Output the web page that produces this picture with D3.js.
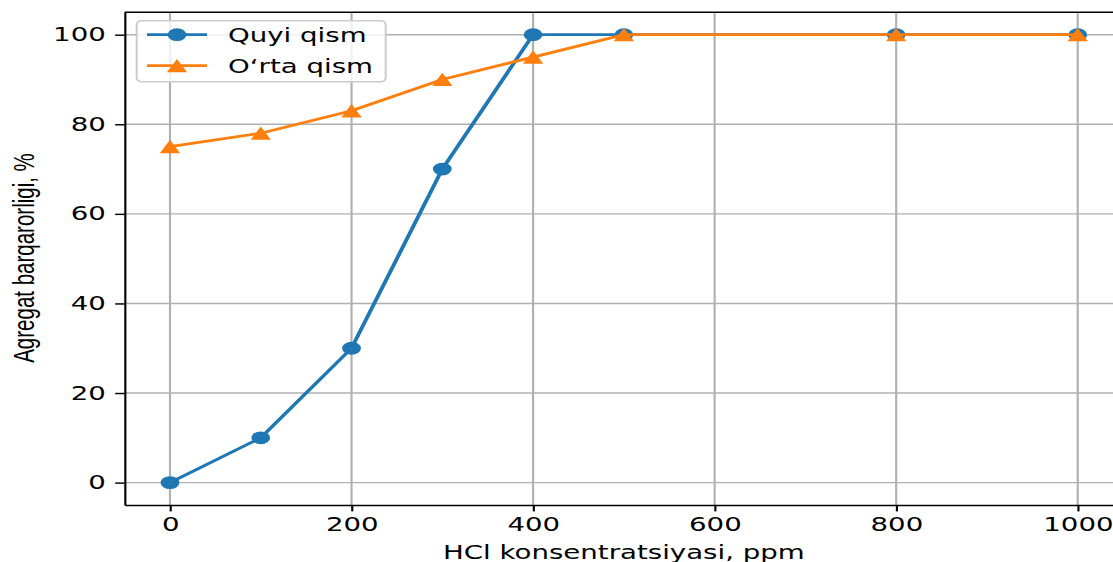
<!DOCTYPE html>
<html>
<head>
<meta charset="utf-8">
<script src="https://cdn.jsdelivr.net/npm/d3@7"></script>
<style>
  html, body { margin: 0; padding: 0; background: #fff; }
  svg { display: block; }
</style>
</head>
<body>
<svg id="chart"></svg>
<script>
// data
const concentrations = [0, 100, 200, 300, 400, 500, 800, 1000];
const quyiQism = [0, 10, 30, 70, 100, 100, 100, 100];
const ortaQism = [75, 78, 83, 90, 95, 100, 100, 100];
const seriesNames = ['Quyi qism', 'O\u2018rta qism'];
const xTicks = [0, 200, 400, 600, 800, 1000];
const yTicks = [0, 20, 40, 60, 80, 100];
const xLabel = 'HCl konsentratsiyasi, ppm';
const yLabel = 'Agregat barqarorligi, %';

const blue = '#1f77b4';
const orange = '#ff7f0e';

// the original figure is stretched sideways, so draw in a narrower box and let the svg stretch it
const stretch = 1.47;
const canvasWidth = 1113;
const canvasHeight = 562;
const innerWidth = canvasWidth / stretch;

const svg = d3.select('#chart')
  .attr('width', canvasWidth)
  .attr('height', canvasHeight)
  .attr('viewBox', `0 0 ${innerWidth} ${canvasHeight}`)
  .attr('preserveAspectRatio', 'none');

const plotLeft = 124.6 / stretch, plotRight = 1123.1 / stretch;
const plotTop = 12.3, plotBottom = 505;

const xScale = d3.scaleLinear().domain([-50, 1050]).range([plotLeft, plotRight]);
const yScale = d3.scaleLinear().domain([-5, 105]).range([plotBottom, plotTop]);

// grid
const grid = svg.append('g');
grid.selectAll('.vgrid').data(xTicks).join('line')
  .attr('x1', d => xScale(d)).attr('x2', d => xScale(d))
  .attr('y1', plotTop).attr('y2', plotBottom)
  .attr('stroke', '#b0b0b0').attr('stroke-width', 1.45);
grid.selectAll('.hgrid').data(yTicks).join('line')
  .attr('x1', plotLeft).attr('x2', plotRight)
  .attr('y1', d => yScale(d)).attr('y2', d => yScale(d))
  .attr('stroke', '#b0b0b0').attr('stroke-width', 1.45);

// series
const line = d3.line().x(d => xScale(d[0])).y(d => yScale(d[1]));
const triangle = 'M0,-6.8L6.9,6.6L-6.9,6.6Z';

const quyiPts = concentrations.map((c, i) => [c, quyiQism[i]]);
const ortaPts = concentrations.map((c, i) => [c, ortaQism[i]]);

svg.append('path').datum(quyiPts)
  .attr('d', line).attr('fill', 'none')
  .attr('stroke', blue).attr('stroke-width', 2.75);
svg.append('g').selectAll('circle').data(quyiPts).join('circle')
  .attr('cx', d => xScale(d[0])).attr('cy', d => yScale(d[1]))
  .attr('r', 6.4).attr('fill', blue);

svg.append('path').datum(ortaPts)
  .attr('d', line).attr('fill', 'none')
  .attr('stroke', orange).attr('stroke-width', 2.75);
svg.append('g').selectAll('path').data(ortaPts).join('path')
  .attr('transform', d => `translate(${xScale(d[0])},${yScale(d[1])})`)
  .attr('d', triangle).attr('fill', orange);

// axes
const font = 'DejaVu Sans, sans-serif';
const fontSize = '18.8px';
const xAxis = d3.axisBottom(xScale).tickValues(xTicks).tickFormat(d3.format('d'))
  .tickSize(6.4).tickPadding(6.4).tickSizeOuter(0);
const yAxis = d3.axisLeft(yScale).tickValues(yTicks).tickFormat(d3.format('d'))
  .tickSize(6.4).tickPadding(6.4).tickSizeOuter(0);

svg.append('g').attr('transform', `translate(0,${plotBottom})`).call(xAxis);
svg.append('g').attr('transform', `translate(${plotLeft},0)`).call(yAxis);
svg.selectAll('.domain, .tick line').attr('stroke', '#000').attr('stroke-width', 1.45);
svg.selectAll('.tick text').attr('fill', '#000')
  .style('font-family', font).style('font-size', fontSize);

// top and right spines
svg.append('line').attr('x1', plotLeft).attr('x2', plotRight).attr('y1', plotTop).attr('y2', plotTop)
  .attr('stroke', '#000').attr('stroke-width', 1.45);
svg.append('line').attr('x1', plotRight).attr('x2', plotRight).attr('y1', plotTop).attr('y2', plotBottom)
  .attr('stroke', '#000').attr('stroke-width', 1.45);

// labels
svg.append('text')
  .attr('x', (plotLeft + plotRight) / 2).attr('y', 559)
  .attr('text-anchor', 'middle')
  .style('font-family', font).style('font-size', fontSize)
  .text(xLabel);
svg.append('text')
  .attr('transform', `translate(${23 / stretch},258) rotate(-90)`)
  .attr('text-anchor', 'middle').attr('dominant-baseline', 'central')
  .style('font-family', 'Liberation Sans, Arial, sans-serif').style('font-size', '20.5px')
  .text(yLabel);

// legend
const legend = svg.append('g');
legend.append('rect')
  .attr('x', 136.7 / stretch).attr('y', 20.7)
  .attr('width', (385.7 - 136.7) / stretch).attr('height', 61)
  .attr('rx', 3).attr('ry', 4)
  .attr('fill', 'rgba(255,255,255,0.8)').attr('stroke', '#cccccc').attr('stroke-width', 1.4);

const rowY = [34.7, 65.7];
const colors = [blue, orange];
const lx1 = 147 / stretch, lx2 = 207 / stretch, lxm = (lx1 + lx2) / 2;
const rows = legend.selectAll('.row').data(seriesNames).join('g')
  .attr('transform', (d, i) => `translate(0,${rowY[i]})`);
rows.append('line').attr('x1', lx1).attr('x2', lx2)
  .attr('stroke', (d, i) => colors[i]).attr('stroke-width', 2.75);
rows.filter((d, i) => i === 0).append('circle')
  .attr('cx', lxm).attr('r', 6.4).attr('fill', blue);
rows.filter((d, i) => i === 1).append('path')
  .attr('transform', `translate(${lxm},0)`).attr('d', triangle).attr('fill', orange);
rows.append('text')
  .attr('x', 228 / stretch).attr('y', 6.8)
  .style('font-family', font).style('font-size', fontSize)
  .text(d => d);
</script>
</body>
</html>
